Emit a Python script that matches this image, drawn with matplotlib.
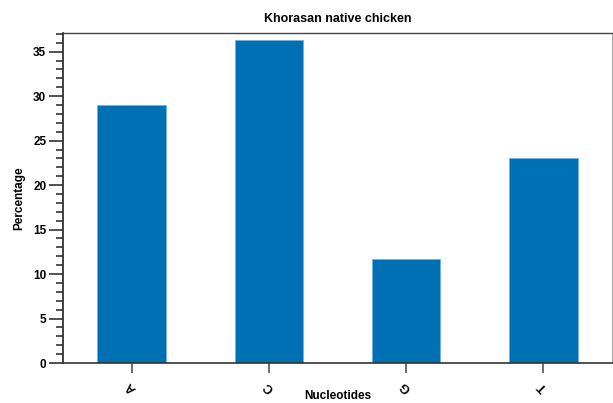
import matplotlib
matplotlib.use("Agg")
import matplotlib.pyplot as plt
from matplotlib.ticker import MultipleLocator

nucleotides = ["A", "C", "G", "T"]
percentage = [29.0, 36.35, 11.7, 23.05]

plt.rcParams['font.family'] = ['Liberation Sans', 'DejaVu Sans']
plt.rcParams['font.weight'] = 'bold'

fig = plt.figure(figsize=(6.13, 4.03), dpi=100, facecolor='w')
ax = fig.add_axes([63/613, 1 - 363/403, (612 - 63)/613, (363 - 33)/403])

ax.bar(range(len(nucleotides)), percentage, width=0.5, color='#0070b4',
       edgecolor='#6fb3e0', linewidth=0.6)

ax.set_xlim(-0.5, 3.5)
ax.set_ylim(0, 37.1)
ax.set_xticks(range(len(nucleotides)))
ax.set_xticklabels(nucleotides, rotation=135, fontsize=9, fontweight='bold',
                   ha='center', va='center')
ax.tick_params(axis='x', length=7, width=1.2, color='#555555', pad=10)

ax.yaxis.set_major_locator(MultipleLocator(5))
ax.yaxis.set_minor_locator(MultipleLocator(1))
ax.tick_params(axis='y', which='major', length=10, width=1.2, color='#333333',
               labelsize=8.5, pad=2)
ax.tick_params(axis='y', which='minor', length=5, width=1.2, color='#333333')
for lab in ax.get_yticklabels():
    lab.set_fontweight('bold')

ax.spines['left'].set_color('#222222')
ax.spines['left'].set_linewidth(1.2)
ax.spines['bottom'].set_color('#333333')
ax.spines['bottom'].set_linewidth(1.2)
ax.spines['top'].set_color('#444444')
ax.spines['top'].set_linewidth(1.0)
ax.spines['right'].set_color('#aaaaaa')
ax.spines['right'].set_linewidth(0.8)

ax.set_title('Khorasan native chicken', fontsize=9, fontweight='bold', pad=8)
ax.set_ylabel('Percentage', fontsize=8.5, fontweight='bold', labelpad=6)
ax.set_xlabel('Nucleotides', fontsize=8.5, fontweight='bold')
ax.xaxis.set_label_coords(0.5, -(390 - 363) / 330)

fig.savefig('out.png', dpi=100)
